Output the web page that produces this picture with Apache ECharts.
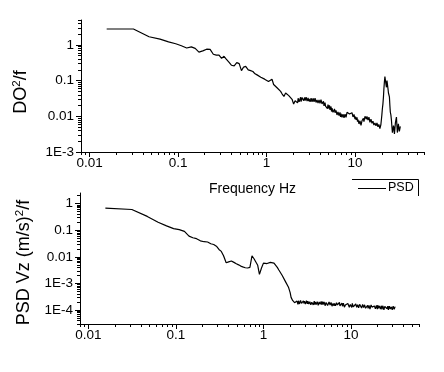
<!DOCTYPE html>
<html>
<head>
<meta charset="utf-8">
<script src="https://cdn.jsdelivr.net/npm/echarts@6/dist/echarts.min.js"></script>
<style>html,body{margin:0;padding:0;background:#fff}#c{width:444px;height:372px}</style>
</head>
<body>
<div id="c"></div>
<script>
const frequency = [
  0.0156,0.0313,0.047,0.0625,0.078,0.094,0.109,0.125,0.141,0.156,
  0.172,0.19,0.21,0.23,0.25,0.27,0.29,0.31,0.33,0.35,
  0.375,0.4,0.43,0.46,0.49,0.52,0.55,0.58,0.62,0.66,
  0.7,0.74,0.78,0.82,0.86,0.9,0.95,1.0,1.05,1.1,
  1.15,1.2,1.26,1.32,1.38,1.44,1.5,1.57,1.64,1.71,
  1.78,1.86,1.94,2.02,
  2.07,2.10,2.13,2.155,2.18,2.21,2.24,2.27,2.30,2.33,2.36,2.39,2.42,2.45,2.48,2.515,2.55,2.585,2.62,2.655,2.69,2.725,2.76,2.795,2.83,2.865,2.90,2.94,2.98,3.02,
  3.06,3.10,3.14,3.18,3.22,3.26,3.30,3.345,3.39,3.435,3.48,3.525,3.57,3.615,3.66,3.71,3.76,3.81,3.86,3.91,3.96,4.01,
  4.06,4.115,4.17,4.225,4.28,4.335,4.39,4.45,4.51,4.57,4.63,4.69,4.75,4.81,4.87,4.935,
  5.00,5.065,5.13,5.20,5.27,5.34,5.41,5.48,5.55,5.625,5.70,5.775,5.85,5.925,
  6.00,6.08,6.16,6.24,6.32,6.405,6.49,6.575,6.66,6.75,6.84,6.93,
  7.02,7.11,7.20,7.295,7.39,7.49,7.59,7.69,7.79,7.895,
  8.00,8.10,8.20,8.31,8.42,8.53,8.64,8.755,8.87,8.985,
  9.10,9.22,9.34,9.465,9.59,9.715,9.84,9.97,
  10.1,10.235,10.37,10.505,10.64,10.78,10.92,11.065,
  11.21,11.355,11.5,11.65,11.8,11.95,
  12.1,12.25,12.4,12.575,12.75,12.925,
  13.1,13.25,13.4,13.6,13.8,13.975,
  14.15,14.325,14.5,14.7,14.9,15.1,
  15.3,15.5,15.7,15.9,
  16.1,16.3,16.5,16.75,
  17.0,17.2,17.4,17.65,17.9,18.1,
  18.3,18.55,18.8,19.05,
  19.3,19.55,19.8,20.05,
  20.3,20.6,20.9,21.15,
  21.4,21.7,
  22.0,22.3,22.6,22.9,
  23.2,23.5,23.8,24.1,
  24.4,24.7,
  25.0,25.35,25.7,26.05,
  26.4,26.75,
  27.1,27.45,27.8,28.15,
  28.5,28.9,29.3,29.65,
  30.0,30.4,30.8,31.2,
  31.6,32.0,32.4
];

const doPsd = [
  2.8,2.8,1.7,1.45,1.22,1.08,0.95,0.82,0.88,0.80,
  0.63,0.68,0.76,0.75,0.55,0.52,0.52,0.42,0.48,0.40,
  0.33,0.27,0.26,0.32,0.30,0.19,0.24,0.25,0.20,0.19,
  0.18,0.155,0.145,0.13,0.125,0.12,0.11,0.10,0.095,0.092,
  0.11,0.078,0.07,0.062,0.055,0.05,0.042,0.036,0.045,0.05,
  0.038,0.04,0.03,0.022,
  0.022,0.0274,0.0243,0.0297,0.0283,0.0295,0.0238,0.0321,0.0307,0.0254,0.0283,0.0271,0.0341,0.0257,0.0267,0.0337,0.0307,0.0337,0.0274,0.0261,0.0337,0.0274,0.0261,0.0344,0.0322,0.0267,0.030,0.0329,0.0267,0.0309,
  0.0333,0.0253,0.0277,0.0325,0.0318,0.0253,0.0253,0.0320,0.0293,0.0255,0.0261,0.0321,0.0329,0.0245,0.0246,0.0289,0.0276,0.0235,0.0230,0.0290,0.0292,0.0232,
  0.0248,0.0293,0.0268,0.0223,0.0214,0.0252,0.0264,0.0196,0.0215,0.0241,0.0192,0.0215,0.0219,0.0174,0.0165,0.0212,
  0.0188,0.0164,0.0202,0.0152,0.0159,0.0189,0.0136,0.0170,0.0161,0.0129,0.014,0.0128,0.0161,0.0126,
  0.0116,0.0146,0.0133,0.0109,0.0112,0.0132,0.0141,0.0105,0.0115,0.0129,0.0096,0.0118,
  0.0121,0.0094,0.0098,0.0115,0.0112,0.0090,0.0083,0.0114,0.0105,0.0094,
  0.0100,0.0129,0.0138,0.0117,0.013,0.0142,0.0116,0.0114,0.0129,0.0102,
  0.0105,0.0126,0.0129,0.0096,0.0091,0.0113,0.0102,0.0083,
  0.0099,0.0080,0.0079,0.0093,0.0071,0.0081,0.0083,0.0061,
  0.0064,0.0075,0.0068,0.0056,0.0055,0.0075,
  0.0073,0.0069,0.0088,0.0071,0.0078,0.0100,
  0.0093,0.0103,0.0083,0.0100,0.0099,0.0078,
  0.0081,0.0095,0.0094,0.0068,0.0071,0.0083,
  0.0074,0.0064,0.0061,0.0073,
  0.0075,0.0057,0.0057,0.0065,
  0.0063,0.0054,0.0049,0.0065,0.0060,0.0051,
  0.0053,0.0059,0.0058,0.0045,
  0.0045,0.0059,0.008,0.011,
  0.016,0.022,0.035,0.06,
  0.09,0.13,
  0.12,0.08,0.065,0.10,
  0.09,0.06,0.045,0.04,
  0.035,0.02,
  0.013,0.011,0.008,0.005,
  0.0035,0.0042,
  0.0055,0.0048,0.0032,0.0045,
  0.0065,0.008,0.0095,0.0055,
  0.0035,0.0045,0.0062,0.0055,
  0.0038,0.0042,0.0052
];

const vzPsd = [
  0.67,0.60,0.33,0.20,0.145,0.115,0.105,0.09,0.06,0.052,
  0.048,0.04,0.037,0.036,0.031,0.029,0.025,0.019,0.016,0.011,
  0.006,0.0065,0.007,0.0062,0.0055,0.005,0.0045,0.0042,0.0039,0.0038,
  0.004,0.011,0.0085,0.0075,0.0048,0.0022,0.0038,0.0058,0.0062,0.0056,
  0.0066,0.0062,0.0055,0.0058,0.0062,0.004,0.0032,0.0034,0.002,0.0018,
  0.0012,0.0013,0.0007,0.00045,
  3.0e-4,2.75e-4,2.6e-4,2.3e-4,2.4e-4,2.5e-4,2.1e-4,1.9e-4,2.2e-4,2.28e-4,2.00e-4,1.65e-4,2.18e-4,2.18e-4,1.65e-4,2.24e-4,2.12e-4,1.70e-4,1.90e-4,2.30e-4,2.37e-4,1.79e-4,1.70e-4,1.65e-4,2.06e-4,2.24e-4,1.79e-4,2.18e-4,2.30e-4,1.67e-4,
  1.57e-4,2.24e-4,1.90e-4,1.70e-4,2.18e-4,2.06e-4,1.70e-4,1.61e-4,2.06e-4,2.16e-4,1.57e-4,1.61e-4,1.96e-4,2.07e-4,2.24e-4,1.57e-4,1.75e-4,2.18e-4,1.61e-4,2.01e-4,2.07e-4,1.63e-4,
  1.75e-4,2.07e-4,2.12e-4,1.52e-4,1.48e-4,2.01e-4,1.95e-4,1.66e-4,1.85e-4,2.12e-4,1.61e-4,1.57e-4,2.07e-4,1.61e-4,1.52e-4,2.02e-4,
  1.82e-4,1.46e-4,1.63e-4,1.92e-4,2.09e-4,1.87e-4,1.50e-4,1.50e-4,1.72e-4,2.03e-4,1.92e-4,1.54e-4,1.58e-4,1.93e-4,
  1.95e-4,1.40e-4,1.36e-4,1.79e-4,1.70e-4,1.44e-4,1.79e-4,1.95e-4,1.44e-4,1.52e-4,1.89e-4,1.81e-4,
  1.56e-4,1.36e-4,1.36e-4,1.84e-4,1.94e-4,1.43e-4,1.47e-4,1.39e-4,1.69e-4,1.85e-4,
  1.39e-4,1.43e-4,1.83e-4,1.73e-4,1.28e-4,1.31e-4,1.55e-4,1.78e-4,1.73e-4,1.36e-4,
  1.42e-4,1.77e-4,1.72e-4,1.63e-4,1.27e-4,1.31e-4,1.63e-4,1.65e-4,
  1.43e-4,1.25e-4,1.78e-4,1.69e-4,1.32e-4,1.35e-4,1.51e-4,1.26e-4,
  1.25e-4,1.69e-4,1.69e-4,1.28e-4,1.32e-4,1.60e-4,
  1.51e-4,1.21e-4,1.18e-4,1.64e-4,1.64e-4,1.52e-4,
  1.38e-4,1.20e-4,1.24e-4,1.63e-4,1.50e-4,1.24e-4,
  1.17e-4,1.58e-4,1.67e-4,1.17e-4,1.31e-4,1.24e-4,
  1.37e-4,1.49e-4,1.16e-4,1.16e-4,
  1.49e-4,1.57e-4,1.10e-4,1.19e-4,
  1.57e-4,1.53e-4,1.29e-4,1.13e-4,1.41e-4,1.41e-4,
  1.18e-4,1.43e-4,1.47e-4,1.11e-4,
  1.08e-4,1.51e-4,1.28e-4,1.08e-4,
  1.55e-4,1.18e-4,1.15e-4,1.44e-4,
  1.34e-4,1.10e-4,
  1.16e-4,1.45e-4,1.07e-4,1.07e-4,
  1.45e-4,1.37e-4,1.01e-4,1.04e-4,
  1.37e-4,1.34e-4,
  1.26e-4,1.41e-4,1.13e-4,1.10e-4,
  1.41e-4,1.02e-4,
  1.00e-4,1.39e-4,1.25e-4,1.09e-4,
  1.15e-4,1.32e-4,1.43e-4,1.03e-4,
  1.03e-4,1.39e-4,1.28e-4,1.06e-4,
  1.06e-4,1.35e-4,1.39e-4
];

const xTickValues = [0.01, 0.1, 1, 10];
const xTickLabels = ['0.01', '0.1', '1', '10'];
const xMinorTicks = [0.008,0.009,0.02,0.03,0.04,0.05,0.06,0.07,0.08,0.09,0.2,0.3,0.4,0.5,0.6,0.7,0.8,0.9,2,3,4,5,6,7,8,9,20,30,40,50,60];
const yTopTickValues = [0.001, 0.01, 0.1, 1];
const yTopTickLabels = ['1E-3', '0.01', '0.1', '1'];
const yTopMinorTicks = [0.002,0.003,0.004,0.005,0.006,0.007,0.008,0.009,0.02,0.03,0.04,0.05,0.06,0.07,0.08,0.09,0.2,0.3,0.4,0.5,0.6,0.7,0.8,0.9,2,3,4,5];
const yBotTickValues = [0.0001, 0.001, 0.01, 0.1, 1];
const yBotTickLabels = ['1E-4', '1E-3', '0.01', '0.1', '1'];
const yBotMinorTicks = [3e-5,4e-5,5e-5,6e-5,7e-5,8e-5,9e-5,2e-4,3e-4,4e-4,5e-4,6e-4,7e-4,8e-4,9e-4,0.002,0.003,0.004,0.005,0.006,0.007,0.008,0.009,0.02,0.03,0.04,0.05,0.06,0.07,0.08,0.09,0.2,0.3,0.4,0.5,0.6,0.7,0.8,0.9,2];

const FONT = "'Liberation Sans', Arial, sans-serif";

function labelFor(values, labels) {
  return function (v) {
    for (let i = 0; i < values.length; i++) {
      if (Math.abs(Math.log10(values[i]) - Math.log10(v)) < 0.01) return labels[i];
    }
    return '';
  };
}

function mainX(gridIndex, name) {
  return {
    type: 'log', logBase: 10, gridIndex: gridIndex, min: 0.008, max: 60,
    position: 'bottom',
    name: name || '', nameLocation: 'middle', nameGap: 30,
    nameTextStyle: { fontFamily: FONT, fontSize: 14, color: '#000' },
    axisLine: { show: true, onZero: false, lineStyle: { color: '#000', width: 1 } },
    axisTick: { show: true, inside: false, length: 5, customValues: xTickValues, lineStyle: { color: '#000' } },
    axisLabel: { show: true, margin: 4, customValues: xTickValues, formatter: labelFor(xTickValues, xTickLabels),
      fontFamily: FONT, fontSize: 13.5, color: '#000' },
    splitLine: { show: false }, minorTick: { show: false }, minorSplitLine: { show: false }
  };
}
function minorX(gridIndex) {
  return {
    type: 'log', logBase: 10, gridIndex: gridIndex, min: 0.008, max: 60, position: 'bottom',
    axisLine: { show: false, onZero: false },
    axisTick: { show: true, inside: false, length: 3, customValues: xMinorTicks, lineStyle: { color: '#000' } },
    axisLabel: { show: false }, splitLine: { show: false }
  };
}
function mainY(gridIndex, min, max, vals, labs, name, gap, shift) {
  return {
    type: 'log', logBase: 10, gridIndex: gridIndex, min: min, max: max, position: 'left',
    name: name, nameLocation: 'middle', nameGap: gap, nameRotate: 90,
    nameTextStyle: { fontFamily: FONT, fontSize: 18, color: '#000', padding: [0, shift, 0, 0],
      rich: {
        b: { fontFamily: FONT, fontSize: 18, color: '#000', lineHeight: 21 },
        s: { fontFamily: FONT, fontSize: 11.5, color: '#000', verticalAlign: 'top', lineHeight: 21 }
      } },
    axisLine: { show: true, onZero: false, lineStyle: { color: '#000', width: 1 } },
    axisTick: { show: true, inside: false, length: 5, customValues: vals, lineStyle: { color: '#000' } },
    axisLabel: { show: true, margin: 7, customValues: vals, formatter: labelFor(vals, labs),
      fontFamily: FONT, fontSize: 13.5, color: '#000' },
    splitLine: { show: false }
  };
}
function minorY(gridIndex, min, max, vals) {
  return {
    type: 'log', logBase: 10, gridIndex: gridIndex, min: min, max: max, position: 'left',
    axisLine: { show: false, onZero: false },
    axisTick: { show: true, inside: false, length: 3, customValues: vals, lineStyle: { color: '#000' } },
    axisLabel: { show: false }, splitLine: { show: false }
  };
}

const chart = echarts.init(document.getElementById('c'), null, { renderer: 'canvas' });
chart.setOption({
  animation: false,
  backgroundColor: '#fff',
  grid: [
    { left: 81, top: 20, width: 343, height: 132, containLabel: false },
    { left: 80, top: 193, width: 339, height: 131, containLabel: false }
  ],
  xAxis: [mainX(0, 'Frequency Hz'), minorX(0), mainX(1, ''), minorX(1)],
  yAxis: [
    mainY(0, 0.001, 5, yTopTickValues, yTopTickLabels, '{b|DO}{s|2}{b|/f}', 49, 12),
    minorY(0, 0.001, 5, yTopMinorTicks),
    mainY(1, 3e-5, 2.5, yBotTickValues, yBotTickLabels, '{b|PSD Vz (m/s)}{s|2}{b|/f}', 45, 8),
    minorY(1, 3e-5, 2.5, yBotMinorTicks)
  ],
  graphic: [
    { type: 'polyline', shape: { points: [[352, 179.5], [418.5, 179.5], [418.5, 196]] },
      style: { stroke: '#000', lineWidth: 1, fill: null } },
    { type: 'line', shape: { x1: 358, y1: 188.5, x2: 386, y2: 188.5 }, style: { stroke: '#000', lineWidth: 1 } },
    { type: 'text', x: 388, y: 188, style: { text: 'PSD', font: "12.5px 'Liberation Sans', Arial, sans-serif", fill: '#000', verticalAlign: 'middle' } }
  ],
  series: [
    { type: 'line', xAxisIndex: 0, yAxisIndex: 0, showSymbol: false, symbol: 'none',
      lineStyle: { color: '#000', width: 1.2 }, data: frequency.map((f, i) => [f, doPsd[i]]) },
    { type: 'line', xAxisIndex: 2, yAxisIndex: 2, showSymbol: false, symbol: 'none',
      lineStyle: { color: '#000', width: 1.2 }, data: frequency.map((f, i) => [f, vzPsd[i]]) }
  ]
});
</script>
</body>
</html>
